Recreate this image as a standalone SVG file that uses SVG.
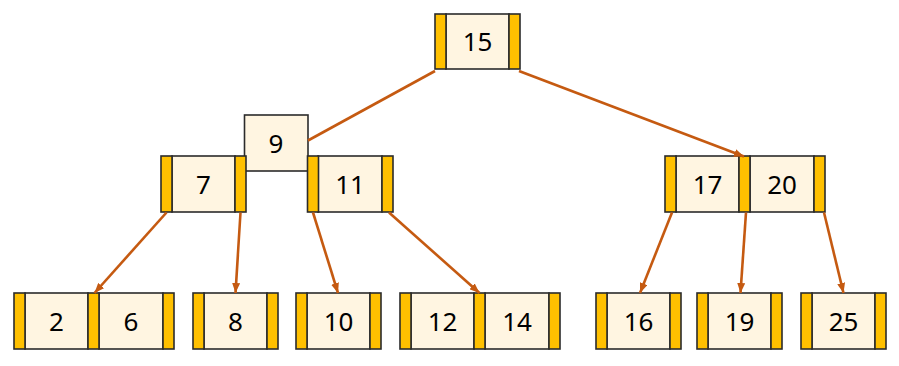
<svg xmlns="http://www.w3.org/2000/svg" width="899" height="366" viewBox="0 0 899 366">
<defs>
<style>
.bar{fill:#ffc000;stroke:#2b2b2b;stroke-width:1.6}
.cell{fill:#fff5e1;stroke:#2b2b2b;stroke-width:1.6}
.t{font-family:"Noto Sans","DejaVu Sans",sans-serif;font-size:26px;fill:#000;text-anchor:middle}
.e{stroke:#c55a11;stroke-width:2.6;fill:none}
</style>
<marker id="ah" viewBox="0 0 10 8" refX="10" refY="4" markerWidth="10" markerHeight="8" markerUnits="userSpaceOnUse" orient="auto">
<path d="M0,0 L10,4 L0,8 z" fill="#c55a11"/>
</marker>
</defs>
<rect width="899" height="366" fill="#fff"/>
<g id="n15">
<rect class="cell" x="446" y="14" width="63" height="55"/>
<rect class="bar" x="435" y="14" width="11" height="55"/>
<rect class="bar" x="509" y="14" width="11" height="55"/>
<text class="t" x="477.5" y="51">15</text>
</g>
<g id="n9">
<rect class="cell" x="244.5" y="115" width="63.5" height="56"/>
<text class="t" x="276" y="152.5">9</text>
</g>
<g id="n7">
<rect class="cell" x="172" y="156" width="63" height="56"/>
<rect class="bar" x="161" y="156" width="11" height="56"/>
<rect class="bar" x="235" y="156" width="11" height="56"/>
<text class="t" x="203.5" y="193.5">7</text>
</g>
<g id="n11">
<rect class="cell" x="318" y="156" width="64" height="56"/>
<rect class="bar" x="307.5" y="156" width="11" height="56"/>
<rect class="bar" x="382" y="156" width="11" height="56"/>
<text class="t" x="350" y="193.5">11</text>
</g>
<g id="n17_20">
<rect class="cell" x="676" y="156" width="63" height="56"/>
<rect class="cell" x="750" y="156" width="64" height="56"/>
<rect class="bar" x="665" y="156" width="11" height="56"/>
<rect class="bar" x="739" y="156" width="11" height="56"/>
<rect class="bar" x="814" y="156" width="11" height="56"/>
<text class="t" x="707.5" y="193.5">17</text>
<text class="t" x="782" y="193.5">20</text>
</g>
<g id="n2_6">
<rect class="cell" x="25" y="293" width="63" height="56"/>
<rect class="cell" x="99" y="293" width="64" height="56"/>
<rect class="bar" x="14" y="293" width="11" height="56"/>
<rect class="bar" x="88" y="293" width="11" height="56"/>
<rect class="bar" x="163" y="293" width="11" height="56"/>
<text class="t" x="56.5" y="330.5">2</text>
<text class="t" x="131" y="330.5">6</text>
</g>
<g id="n8">
<rect class="cell" x="204" y="293" width="63" height="56"/>
<rect class="bar" x="193" y="293" width="11" height="56"/>
<rect class="bar" x="267" y="293" width="11" height="56"/>
<text class="t" x="235.5" y="330.5">8</text>
</g>
<g id="n10">
<rect class="cell" x="307" y="293" width="63" height="56"/>
<rect class="bar" x="296" y="293" width="11" height="56"/>
<rect class="bar" x="370" y="293" width="11" height="56"/>
<text class="t" x="338.5" y="330.5">10</text>
</g>
<g id="n12_14">
<rect class="cell" x="411" y="293" width="63" height="56"/>
<rect class="cell" x="485" y="293" width="64" height="56"/>
<rect class="bar" x="400" y="293" width="11" height="56"/>
<rect class="bar" x="474" y="293" width="11" height="56"/>
<rect class="bar" x="549" y="293" width="11" height="56"/>
<text class="t" x="442.5" y="330.5">12</text>
<text class="t" x="517" y="330.5">14</text>
</g>
<g id="n16">
<rect class="cell" x="607" y="293" width="63" height="56"/>
<rect class="bar" x="596" y="293" width="11" height="56"/>
<rect class="bar" x="670" y="293" width="11" height="56"/>
<text class="t" x="638.5" y="330.5">16</text>
</g>
<g id="n19">
<rect class="cell" x="708" y="293" width="63" height="56"/>
<rect class="bar" x="697" y="293" width="11" height="56"/>
<rect class="bar" x="771" y="293" width="11" height="56"/>
<text class="t" x="739.5" y="330.5">19</text>
</g>
<g id="n25">
<rect class="cell" x="812" y="293" width="63" height="56"/>
<rect class="bar" x="801" y="293" width="11" height="56"/>
<rect class="bar" x="875" y="293" width="11" height="56"/>
<text class="t" x="843.5" y="330.5">25</text>
</g>
<g id="connectors">
<line class="e" x1="435" y1="71" x2="308" y2="140.5"/>
<line class="e" x1="519" y1="71" x2="744" y2="156.5" marker-end="url(#ah)"/>
<line class="e" x1="166.5" y1="212.5" x2="94.5" y2="293" marker-end="url(#ah)"/>
<line class="e" x1="240.5" y1="212.5" x2="235.5" y2="293" marker-end="url(#ah)"/>
<line class="e" x1="313" y1="212.5" x2="338" y2="293" marker-end="url(#ah)"/>
<line class="e" x1="389" y1="212.5" x2="479.5" y2="293" marker-end="url(#ah)"/>
<line class="e" x1="672" y1="212.5" x2="640" y2="293" marker-end="url(#ah)"/>
<line class="e" x1="746" y1="212.5" x2="740.5" y2="293" marker-end="url(#ah)"/>
<line class="e" x1="824" y1="212.5" x2="843.5" y2="293" marker-end="url(#ah)"/>
</g>
</svg>
